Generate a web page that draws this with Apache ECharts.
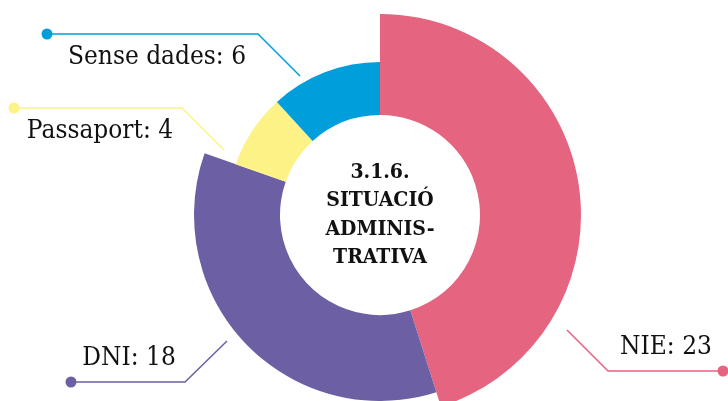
<!DOCTYPE html>
<html>
<head>
<meta charset="utf-8">
<script src="https://cdn.jsdelivr.net/npm/echarts@6/dist/echarts.min.js"></script>
<style>
html, body { margin: 0; padding: 0; background: #fff; }
#chart { width: 728px; height: 401px; }
</style>
</head>
<body>
<div id="chart"></div>
<script>
// dades
const categories = ['NIE', 'DNI', 'Passaport', 'Sense dades'];
const values = [23, 18, 4, 6];
const centerTitle = '3.1.6.\nSITUACIÓ\nADMINIS-\nTRATIVA';

// estil
const colors = ['#e5647f', '#6c5fa3', '#fdf286', '#009edb'];
const outerRadius = [201, 186, 153, 153];
const innerRadius = 100;
const pieCenter = [380, 215];
const labelFont = '"DejaVu Serif Condensed", "DejaVu Serif", serif';

// etiquetes: línia (inici, colze, punt) i centre del text
const callouts = [
  { line: [[567, 330], [608, 371], [723, 371]], text: [666, 347] },
  { line: [[227, 341], [185, 382], [71, 382]], text: [129, 358] },
  { line: [[224, 150], [182, 108], [14, 108]], text: [100, 131] },
  { line: [[300, 76], [258, 34], [47, 34]], text: [157, 57] }
];

const chart = echarts.init(document.getElementById('chart'));

// una sèrie per tall, perquè cada tall té un radi exterior diferent
let series = categories.map(function (cat, i) {
  return {
    type: 'pie',
    silent: true,
    animation: false,
    clockwise: true,
    startAngle: 90,
    avoidLabelOverlap: false,
    center: pieCenter,
    radius: [innerRadius, outerRadius[i]],
    data: categories.map(function (name, j) {
      return {
        name: name,
        value: values[j],
        itemStyle: { color: j === i ? colors[j] : 'transparent' },
        label: { show: j === i },
        labelLine: { show: j === i }
      };
    }),
    label: {
      position: 'outside',
      formatter: '{b}: {c}',
      fontFamily: labelFont,
      fontSize: 26,
      color: '#111'
    },
    labelLine: {
      lineStyle: { color: colors[i], width: 1.5 }
    },
    labelLayout: function (params) {
      const c = callouts[params.dataIndex];
      return {
        x: c.text[0],
        y: c.text[1],
        align: 'center',
        verticalAlign: 'middle',
        labelLinePoints: c.line
      };
    }
  };
});

let dots = callouts.map(function (c, i) {
  const p = c.line[2];
  return {
    type: 'circle',
    shape: { cx: p[0], cy: p[1], r: 5.5 },
    style: { fill: colors[i] },
    silent: true
  };
});

let option = {
  backgroundColor: '#fff',
  series: series,
  graphic: dots.concat([{
    type: 'text',
    x: pieCenter[0],
    y: pieCenter[1],
    style: {
      text: centerTitle,
      align: 'center',
      verticalAlign: 'middle',
      fontFamily: labelFont,
      fontWeight: 'bold',
      fontSize: 21,
      lineHeight: 28.5,
      fill: '#111'
    }
  }])
};

chart.setOption(option);
</script>
</body>
</html>
